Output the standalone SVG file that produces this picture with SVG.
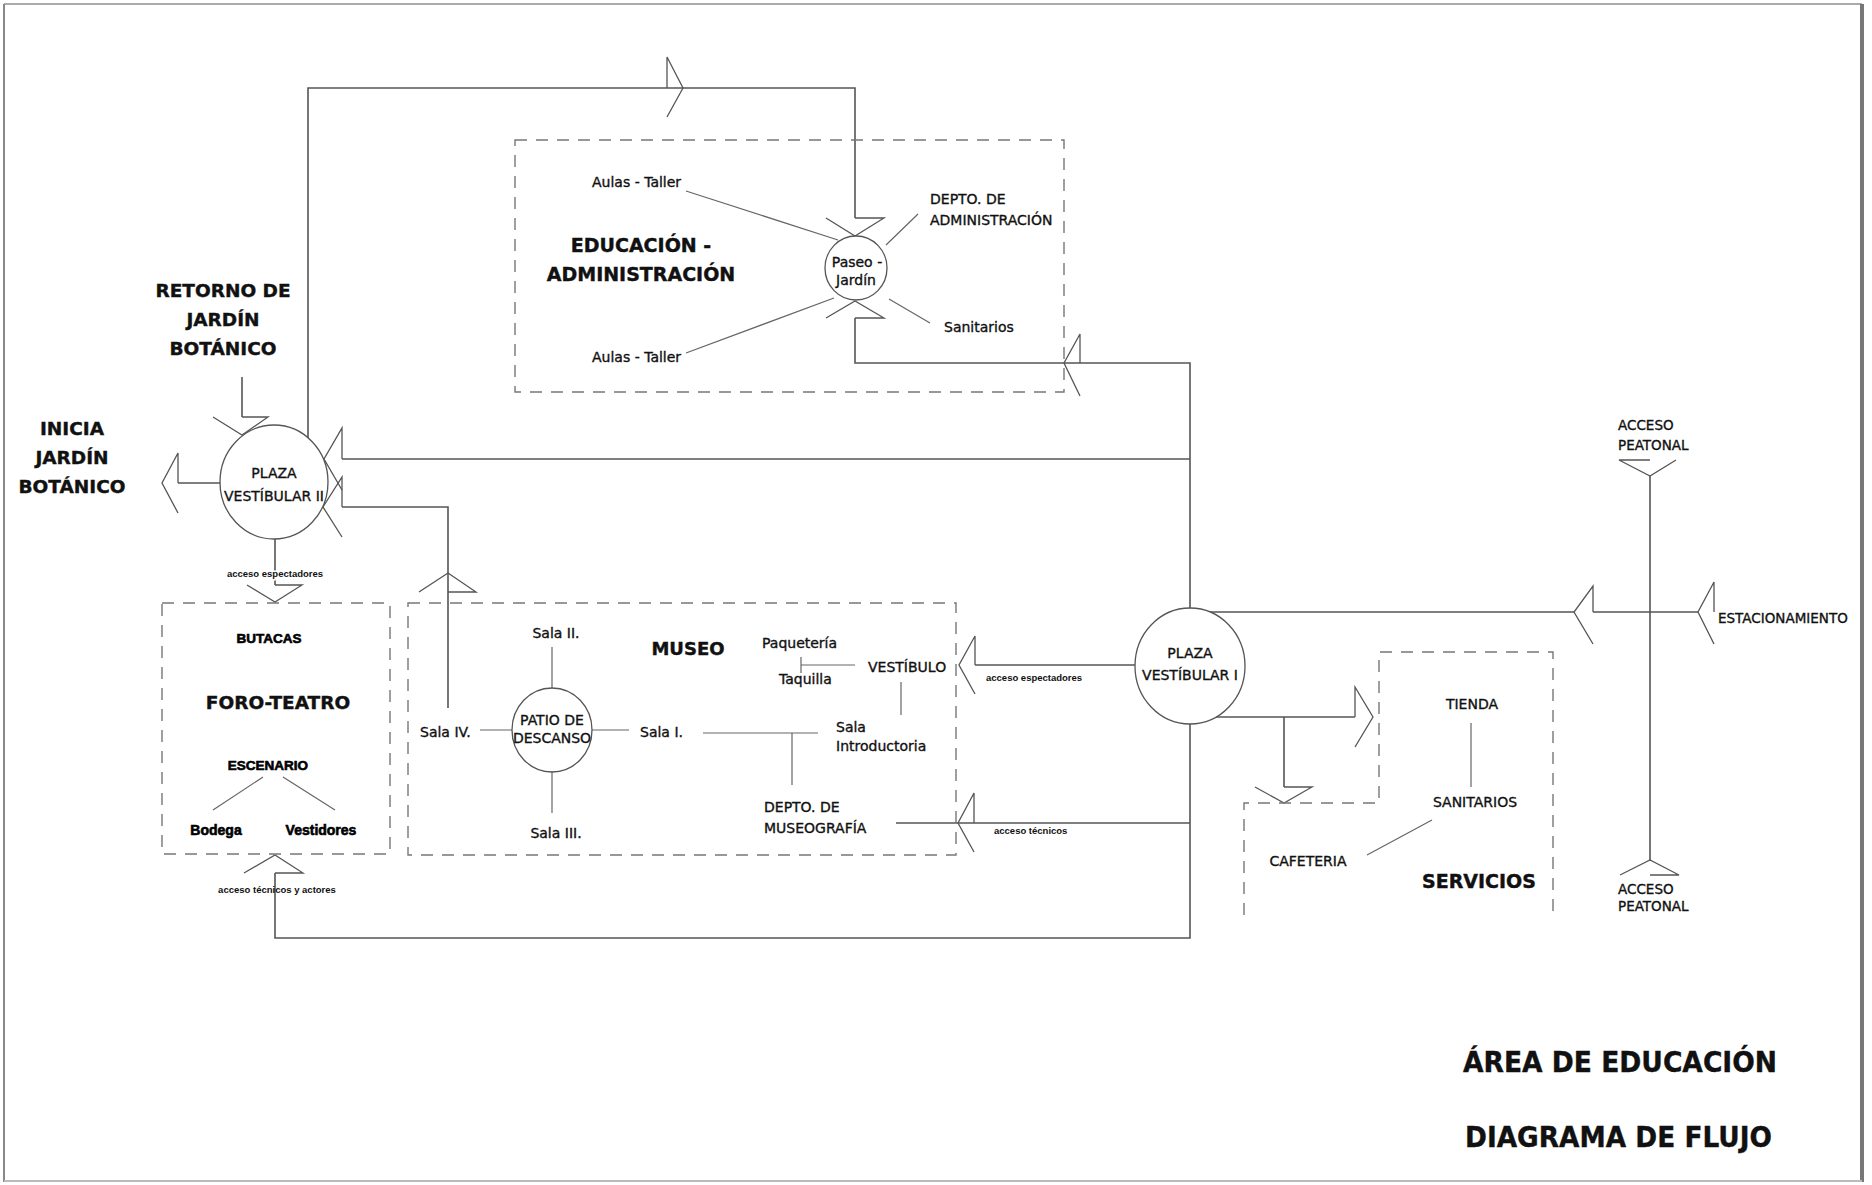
<svg xmlns="http://www.w3.org/2000/svg" width="1872" height="1185" viewBox="0 0 1872 1185">
<style>
.t{font-family:"DejaVu Sans","Liberation Sans",sans-serif;font-size:14px;fill:#111;stroke:#111;stroke-width:0.35}
.c{text-anchor:middle}
.b{font-family:"DejaVu Sans","Liberation Sans",sans-serif;font-weight:bold;fill:#111;stroke:#111;stroke-width:0.4}
.f{font-family:"Liberation Sans",Arial,sans-serif;font-weight:bold;fill:#000;stroke:#000;stroke-width:0.6}
.s{font-family:"Liberation Sans",Arial,sans-serif;font-weight:bold;font-size:9.5px;fill:#111}
.halo{paint-order:stroke;stroke:#fff;stroke-width:3px}
.ln{fill:none;stroke:#555;stroke-width:1.6}
.in{fill:none;stroke:#666;stroke-width:1.2}
.ar{fill:none;stroke:#555;stroke-width:1.3;stroke-linejoin:miter}
.nd{fill:#fff;stroke:#555;stroke-width:1.3}
.box{fill:none;stroke:#777;stroke-width:1.4;stroke-dasharray:12 9}
</style>
<rect width="1872" height="1185" fill="#fff"/>
<g id="frame">
<line x1="4" y1="4" x2="1862" y2="4" stroke="#aaa" stroke-width="2"/>
<line x1="4" y1="4" x2="4" y2="1182" stroke="#888" stroke-width="2"/>
<line x1="1862" y1="4" x2="1862" y2="1182" stroke="#777" stroke-width="4"/>
<line x1="4" y1="1181" x2="1862" y2="1181" stroke="#bbb" stroke-width="2"/>
</g>
<g id="connectors">
<path class="ln" d="M308,438 V88 H855 V218"/>
<path class="ar" d="M667,88 V57 L683,88 L667,117"/>
<path class="ar" d="M855,218 H884 L855,236 L826,218"/>
<path class="ln" d="M855,318 V363 H1190 V608"/>
<path class="ar" d="M855,318 H884 L855,301 L826,318"/>
<path class="ar" d="M1080,363 V334 L1064,363 L1080,396"/>
<path class="ln" d="M342,459 H1190"/>
<path class="ar" d="M342,459 V428 L324,459 L342,490"/>
<path class="ln" d="M342,507 H448 V708"/>
<path class="ar" d="M342,507 V477 L323,507 L342,537"/>
<path class="ar" d="M448,592 H476 L448,573 L419,592"/>
<path class="ln" d="M220,483 H178"/>
<path class="ar" d="M178,483 V453 L162,483 L178,513"/>
<path class="ln" d="M242,377 V417"/>
<path class="ar" d="M242,417 H268 L242,435 L213,417"/>
<path class="ln" d="M275,539 V585"/>
<path class="ar" d="M275,585 H302 L275,602 L247,585"/>
<path class="ln" d="M275,873 V938 H1190 V724"/>
<path class="ar" d="M275,873 H303 L275,855 L244,873"/>
<path class="ln" d="M1135,665 H975"/>
<path class="ar" d="M975,665 V636 L959,665 L975,694"/>
<path class="ln" d="M1190,823 H896"/>
<path class="ar" d="M974,823 V793 L958,823 L974,852"/>
<path class="ln" d="M1210,612 H1574 M1593,612 H1698"/>
<path class="ar" d="M1593,612 V586 L1574,612 L1593,644"/>
<path class="ar" d="M1714,612 V582 L1698,612 L1714,644"/>
<path class="ln" d="M1216,717 H1355 M1284,717 V787"/>
<path class="ar" d="M1355,717 V687 L1373,717 L1355,747"/>
<path class="ar" d="M1284,787 H1312 L1284,803 L1255,787"/>
<path class="ln" d="M1650,476 V861"/>
<path class="ar" d="M1650,460 H1619 L1650,476 L1676,460"/>
<path class="ar" d="M1650,875 H1679 L1650,860 L1620,875"/>
<path class="in" d="M686,191 L838,240 M686,353 L834,298 M918,214 L886,245 M889,299 L930,323"/>
<path class="in" d="M552,647 V688 M552,772 V813 M480,730 H512 M592,730 H629 M703,733 H818 M792,733 V785 M801,657 V673 M801,665 H855 M901,682 V715"/>
<path class="in" d="M263,777 L213,810 M283,777 L335,810"/>
<path class="in" d="M1471,723 V787 M1432,820 L1367,855"/>
</g>
<g id="retorno-jardin">
<text class="b c" font-size="18.5" x="223" y="297">RETORNO DE</text>
<text class="b c" font-size="18.5" x="223" y="326">JARDÍN</text>
<text class="b c" font-size="18.5" x="223" y="355">BOTÁNICO</text>
</g>
<g id="inicia-jardin">
<text class="b c" font-size="18.5" x="72" y="435">INICIA</text>
<text class="b c" font-size="18.5" x="72" y="464">JARDÍN</text>
<text class="b c" font-size="18.5" x="72" y="493">BOTÁNICO</text>
</g>
<g id="plaza-vestibular-2">
<ellipse class="nd" cx="274" cy="482" rx="54" ry="57"/>
<text class="t c" x="274" y="478">PLAZA</text>
<text class="t c" x="274" y="501">VESTÍBULAR II</text>
<text class="s c halo" x="275" y="577">acceso espectadores</text>
</g>
<g id="educacion-administracion">
<rect class="box" x="515" y="140" width="549" height="252"/>
<text class="b c" font-size="19" x="641" y="252">EDUCACIÓN -</text>
<text class="b c" font-size="19" x="641" y="281">ADMINISTRACIÓN</text>
<text class="t" x="592" y="187">Aulas - Taller</text>
<text class="t" x="592" y="362">Aulas - Taller</text>
<text class="t" x="930" y="204">DEPTO. DE</text>
<text class="t" x="930" y="225">ADMINISTRACIÓN</text>
<text class="t" x="944" y="332">Sanitarios</text>
</g>
<g id="paseo-jardin">
<ellipse class="nd" cx="856" cy="268" rx="31" ry="32"/>
<text class="t c" x="857" y="267">Paseo -</text>
<text class="t c" x="856" y="285">Jardín</text>
</g>
<g id="foro-teatro">
<rect class="box" x="162" y="603" width="228" height="251"/>
<text class="f c" font-size="13.5" x="269" y="643">BUTACAS</text>
<text class="b c" font-size="18.5" x="278" y="709">FORO-TEATRO</text>
<text class="f c" font-size="13.5" x="268" y="770">ESCENARIO</text>
<text class="f c" font-size="14" x="216" y="835">Bodega</text>
<text class="f c" font-size="14" x="321" y="835">Vestidores</text>
<text class="s c" x="277" y="893">acceso técnicos y actores</text>
</g>
<g id="museo">
<rect class="box" x="408" y="603" width="548" height="252"/>
<text class="b c" font-size="18" x="688" y="655">MUSEO</text>
<text class="t c" x="556" y="638">Sala II.</text>
<text class="t" x="420" y="737">Sala IV.</text>
<text class="t" x="640" y="737">Sala I.</text>
<text class="t c" x="556" y="838">Sala III.</text>
<text class="t" x="762" y="648">Paquetería</text>
<text class="t" x="779" y="684">Taquilla</text>
<text class="t" x="868" y="672">VESTÍBULO</text>
<text class="t" x="836" y="732">Sala</text>
<text class="t" x="836" y="751">Introductoria</text>
<text class="t" x="764" y="812">DEPTO. DE</text>
<text class="t" x="764" y="833">MUSEOGRAFÍA</text>
</g>
<g id="patio-de-descanso">
<ellipse class="nd" cx="552" cy="730" rx="40" ry="42"/>
<text class="t c" x="552" y="725">PATIO DE</text>
<text class="t c" x="552" y="743">DESCANSO</text>
</g>
<g id="plaza-vestibular-1">
<ellipse class="nd" cx="1190" cy="666" rx="55" ry="58"/>
<text class="t c" x="1190" y="658">PLAZA</text>
<text class="t c" x="1190" y="680">VESTÍBULAR I</text>
<text class="s" x="986" y="681">acceso espectadores</text>
<text class="s" x="994" y="834">acceso técnicos</text>
</g>
<g id="servicios">
<path class="box" d="M1244,915 V803 H1379 V652 H1553 V917"/>
<text class="t c" x="1472" y="709">TIENDA</text>
<text class="t c" x="1475" y="807">SANITARIOS</text>
<text class="t c" x="1308" y="866">CAFETERIA</text>
<text class="b c" font-size="19" x="1479" y="888">SERVICIOS</text>
</g>
<g id="acceso-peatonal-norte">
<text class="t" x="1618" y="430" style="font-size:13.5px">ACCESO</text>
<text class="t" x="1618" y="450" style="font-size:13.5px">PEATONAL</text>
</g>
<g id="estacionamiento">
<text class="t" x="1718" y="623" style="font-size:13.5px">ESTACIONAMIENTO</text>
</g>
<g id="acceso-peatonal-sur">
<text class="t" x="1618" y="894" style="font-size:13.5px">ACCESO</text>
<text class="t" x="1618" y="911" style="font-size:13.5px">PEATONAL</text>
</g>
<g id="titulo">
<text class="b" font-size="29" x="1463" y="1072" textLength="314" lengthAdjust="spacingAndGlyphs">ÁREA DE EDUCACIÓN</text>
<text class="b" font-size="29" x="1465" y="1147" textLength="307" lengthAdjust="spacingAndGlyphs">DIAGRAMA DE FLUJO</text>
</g>
</svg>
